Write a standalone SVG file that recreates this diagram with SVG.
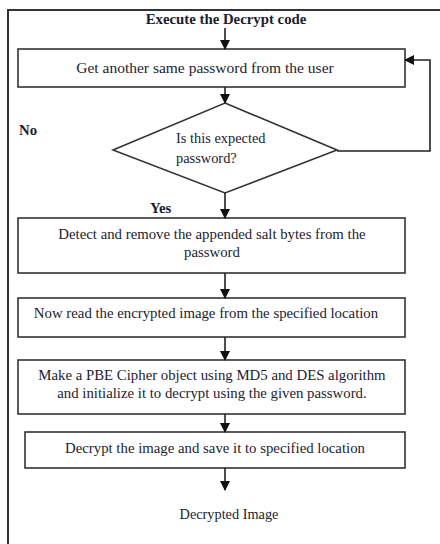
<svg xmlns="http://www.w3.org/2000/svg" width="440" height="544" viewBox="0 0 440 544">
<defs>
<marker id="ah" markerWidth="10" markerHeight="10" refX="9" refY="5" orient="auto" markerUnits="userSpaceOnUse">
<path d="M0,0 L10,5 L0,10 z" fill="#111"/>
</marker>
<style>
.box{fill:#fff;stroke:#333;stroke-width:1.6}
.c{fill:none;stroke:#222;stroke-width:1.6}
</style>
</defs>
<rect width="440" height="544" fill="#fff"/>
<path d="M8,544 V10 H440" fill="none" stroke="#333" stroke-width="2"/>
<g font-family="Liberation Serif" font-size="14.8" fill="#1c1c30" text-anchor="middle">
<g id="title"><text font-weight="bold" x="226" y="24">Execute the Decrypt code</text></g>
<g id="n1"><rect class="box" x="18" y="49" width="387" height="38"/><text x="205" y="73" font-size="15.5">Get another same password from the user</text></g>
<g id="n2"><polygon class="box" points="225,103 337,150 225,193 113,150"/><text x="176" y="143" text-anchor="start" font-size="14.4">Is this expected</text><text x="176" y="163" text-anchor="start" font-size="14.4">password?</text></g>
<g id="lblNo"><text font-weight="bold" x="19" y="135" text-anchor="start">No</text></g>
<g id="lblYes"><text font-weight="bold" x="150" y="213" text-anchor="start">Yes</text></g>
<g id="n3"><rect class="box" x="18" y="218" width="387" height="55"/><text x="212" y="239">Detect and remove the appended salt bytes from the</text><text x="212" y="257">password</text></g>
<g id="n4"><rect class="box" x="18" y="298" width="387" height="39"/><text x="206" y="318">Now read the encrypted image from the specified location</text></g>
<g id="n5"><rect class="box" x="18" y="360" width="387" height="54"/><text x="212" y="380">Make a PBE Cipher object using MD5 and DES algorithm</text><text x="212" y="398">and initialize it to decrypt using the given password.</text></g>
<g id="n6"><rect class="box" x="25" y="432" width="380" height="36"/><text x="215" y="453">Decrypt the image and save it to specified location</text></g>
<g id="n7"><text x="229" y="519" font-size="14.3">Decrypted Image</text></g>
</g>
<g id="connectors">
<line class="c" x1="225" y1="28" x2="225" y2="49" marker-end="url(#ah)"/>
<line class="c" x1="225" y1="87" x2="225" y2="103" marker-end="url(#ah)"/>
<polyline class="c" points="337,151 430,151 430,60 405,60" marker-end="url(#ah)"/>
<line class="c" x1="225" y1="193" x2="225" y2="218" marker-end="url(#ah)"/>
<line class="c" x1="225" y1="273" x2="225" y2="298" marker-end="url(#ah)"/>
<line class="c" x1="225" y1="337" x2="225" y2="360" marker-end="url(#ah)"/>
<line class="c" x1="225" y1="414" x2="225" y2="432" marker-end="url(#ah)"/>
<line class="c" x1="225" y1="468" x2="225" y2="490" marker-end="url(#ah)"/>
</g>
</svg>
